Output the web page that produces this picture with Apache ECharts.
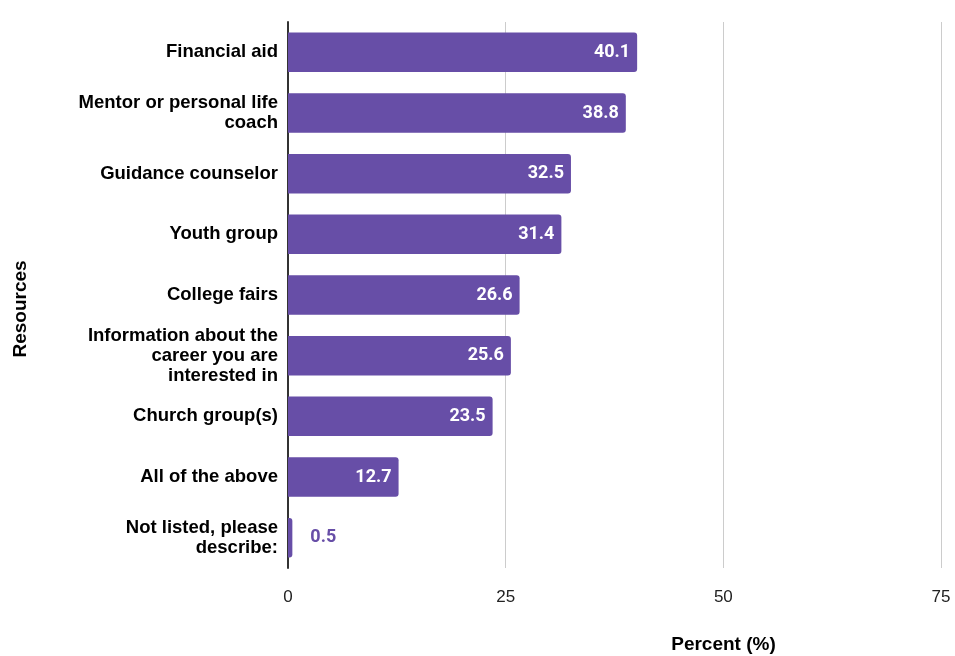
<!DOCTYPE html>
<html><head><meta charset="utf-8">
<script src="https://cdn.jsdelivr.net/npm/echarts@6/dist/echarts.min.js"></script>
<style>html,body{margin:0;padding:0;background:#fff}#c{width:955px;height:656px}</style>
</head><body><div id="c"></div>
<script>
const categories = [
  "Financial aid",
  "Mentor or personal life\ncoach",
  "Guidance counselor",
  "Youth group",
  "College fairs",
  "Information about the\ncareer you are\ninterested in",
  "Church group(s)",
  "All of the above",
  "Not listed, please\ndescribe:"
];
const values = [40.1, 38.8, 32.5, 31.4, 26.6, 25.6, 23.5, 12.7, 0.5];
const xTicks = [0, 25, 50, 75];

const barColor = '#674ea7';
const chart = echarts.init(document.getElementById('c'));
chart.setOption({
  animation: false,
  grid: { left: 288, right: 14, top: 22, bottom: 88, containLabel: false, outerBoundsMode: 'none' },
  xAxis: {
    type: 'value', min: xTicks[0], max: xTicks[xTicks.length - 1], interval: 25,
    name: 'Percent (%)', nameLocation: 'middle', nameGap: 67,
    nameTextStyle: { fontFamily: 'Liberation Sans', fontWeight: 'bold', fontSize: 19, color: '#000', padding: [0, 0, 0, 218] },
    axisLine: { show: false }, axisTick: { show: false },
    axisLabel: { fontFamily: 'Liberation Sans', fontSize: 17, color: '#222', margin: 21 },
    splitLine: { lineStyle: { color: '#cccccc', width: 1 } }
  },
  yAxis: {
    type: 'category', data: categories, inverse: true,
    name: 'Resources', nameLocation: 'middle', nameGap: 258, nameRotate: 90,
    nameTextStyle: { fontFamily: 'Liberation Sans', fontWeight: 'bold', fontSize: 19, color: '#000', padding: [0, 28, 0, 0] },
    axisLine: { show: true, lineStyle: { color: '#333', width: 2 } },
    axisTick: { show: false },
    axisLabel: { fontFamily: 'Liberation Sans', fontWeight: 'bold', fontSize: 18.5, color: '#000', margin: 10, lineHeight: 20, align: 'right' }
  },
  series: [{
    type: 'bar', data: values.map(v => ({
      value: v,
      label: v < 3 ? { position: 'right', color: barColor, distance: 18 } : undefined
    })),
    barCategoryGap: '35%',
    itemStyle: { color: barColor, borderRadius: [0, 3, 3, 0] },
    label: {
      show: true, position: 'insideRight', distance: 7,
      color: '#fff', fontFamily: 'Roboto', fontWeight: 'bold', fontSize: 18
    }
  }]
});
</script></body></html>
